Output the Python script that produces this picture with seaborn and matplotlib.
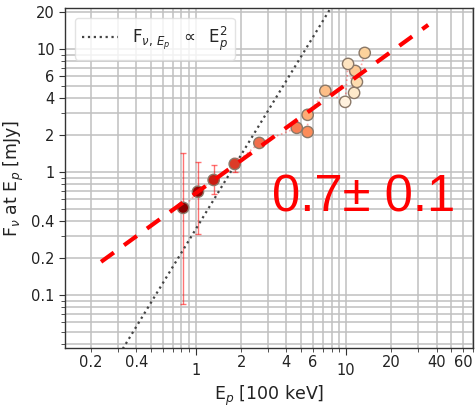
import numpy as np
import pandas as pd
import seaborn as sns
import matplotlib
matplotlib.use("Agg")
import matplotlib.pyplot as plt
from matplotlib.ticker import FixedLocator, FixedFormatter, NullFormatter

# ---- data ----
ep = [0.82, 1.03, 1.31, 1.81, 2.64, 4.69, 5.54, 5.54, 7.27, 9.85, 11.3, 11.8, 11.5, 10.3, 13.3]
flux = [0.51, 0.69, 0.86, 1.16, 1.72, 2.28, 2.11, 2.91, 4.56, 3.71, 4.39, 5.39, 6.62, 7.55, 9.28]
flux_lo = [0.085, 0.31, 0.66, 1.00, 1.62, 2.16, 2.00, 2.78, 4.35, 3.45, 4.15, 5.10, 6.30, 7.20, 8.90]
flux_hi = [1.43, 1.21, 1.14, 1.30, 1.82, 2.40, 2.22, 3.05, 4.78, 3.95, 4.62, 5.68, 6.95, 7.90, 9.70]
ep_err = [0.04, 0.05, 0.06, 0.07, 0.10, 0.2, 0.25, 0.2, 0.3, 0.3, 0.4, 0.4, 0.4, 0.4, 0.5]
epoch = [0.98, 0.92, 0.80, 0.72, 0.60, 0.55, 0.50, 0.42, 0.36, 0.05, 0.12, 0.20, 0.30, 0.15, 0.26]

fit_slope = 0.884
fit_norm = 0.673
fit_range = [0.233, 35.2]
ref_norm = 0.345
ref_range = [0.31, 8.5]

xtick_major = [1, 10]
xtick_minor_labels = {0.2: "0.2", 0.4: "0.4", 2: "2", 4: "4", 6: "6", 20: "20", 40: "40", 60: "60"}
ytick_values = [0.1, 0.2, 0.4, 1, 2, 4, 6, 10, 20]
ytick_labels = ["0.1", "0.2", "0.4", "1", "2", "4", "6", "10", "20"]

df = pd.DataFrame({"ep": ep, "flux": flux, "epoch": epoch})

sns.set_style("ticks")
plt.rcParams["font.family"] = ["DejaVu Sans"]

fig = plt.figure(figsize=(4.75, 4.08), dpi=100)
ax = fig.add_axes([65 / 475, 1 - 348 / 408, 408 / 475, 340 / 408])
ax.set_xscale("log")
ax.set_yscale("log")

# reference E_p^2 line
xr = np.array(ref_range)
ax.plot(xr, ref_norm * xr ** 2, ls=":", color="#444444", lw=1.6,
        label=r"F$_{\nu,\,E_p}$  $\propto$  E$_p^2$", zorder=3)

# faint connecting line
order = np.argsort(ep)
ax.plot(np.array(ep)[order], np.array(flux)[order], ls=":", color="red", alpha=0.35, lw=1.2, zorder=2)

# error bars
f = np.array(flux)
ax.errorbar(ep, flux, yerr=[f - np.array(flux_lo), np.array(flux_hi) - f], xerr=ep_err,
            fmt="none", ecolor="red", alpha=0.55, elinewidth=1, capsize=2, zorder=2)

sns.scatterplot(data=df, x="ep", y="flux", hue="epoch", palette="OrRd", hue_norm=(0, 1),
                s=66, edgecolor="#8a7868", linewidth=1, legend=False, ax=ax, zorder=4)

# fit line
xf = np.array(fit_range)
ax.plot(xf, fit_norm * xf ** fit_slope, color="red", lw=3, dashes=(3.8, 3.0), zorder=5)

ax.text(0.507, 0.40, "0.7\u00b1 0.1", transform=ax.transAxes, color="red",
        fontsize=36.5, family="Liberation Sans", va="baseline", ha="left", zorder=6)

ax.set_xlim(0.134, 70)
ax.set_ylim(0.037, 21.5)

ax.xaxis.set_major_locator(FixedLocator(xtick_major))
ax.xaxis.set_major_formatter(FixedFormatter([str(v) for v in xtick_major]))
minor_x = [m * 10.0 ** e for e in (-1, 0, 1) for m in range(2, 10)]
ax.xaxis.set_minor_locator(FixedLocator(minor_x))
ax.xaxis.set_minor_formatter(FixedFormatter([xtick_minor_labels.get(round(v, 3), "") for v in minor_x]))

minor_y = [m * 10.0 ** e for e in (-2, -1, 0, 1) for m in range(1, 10)]
ax.yaxis.set_major_locator(FixedLocator(ytick_values))
ax.yaxis.set_major_formatter(FixedFormatter(ytick_labels))
ax.yaxis.set_minor_locator(FixedLocator(minor_y))
ax.yaxis.set_minor_formatter(NullFormatter())

ax.tick_params(which="both", labelsize=10.5, color="#333333", labelcolor="#222222")
ax.tick_params(axis="x", which="major", length=5, pad=6)
ax.tick_params(axis="x", which="minor", length=3, pad=2)
ax.tick_params(axis="y", which="major", length=4)
ax.tick_params(axis="y", which="minor", length=3)

ax.grid(True, which="both", color="#c0c0c0", lw=1.1, zorder=0)
ax.set_axisbelow(True)
for s in ax.spines.values():
    s.set_color("#333333")
    s.set_linewidth(1.0)

ax.set_xlabel(r"E$_p$ [100 keV]", fontsize=12.5, color="#222222", labelpad=4)
ax.set_ylabel(r"F$_\nu$ at E$_p$ [mJy]", fontsize=12.5, color="#222222", labelpad=4)

leg = ax.legend(loc="upper left", fontsize=12, frameon=True, handlelength=2.2,
                borderaxespad=0.6)
leg.get_frame().set_edgecolor("#dddddd")

fig.savefig("out.png", dpi=100)
